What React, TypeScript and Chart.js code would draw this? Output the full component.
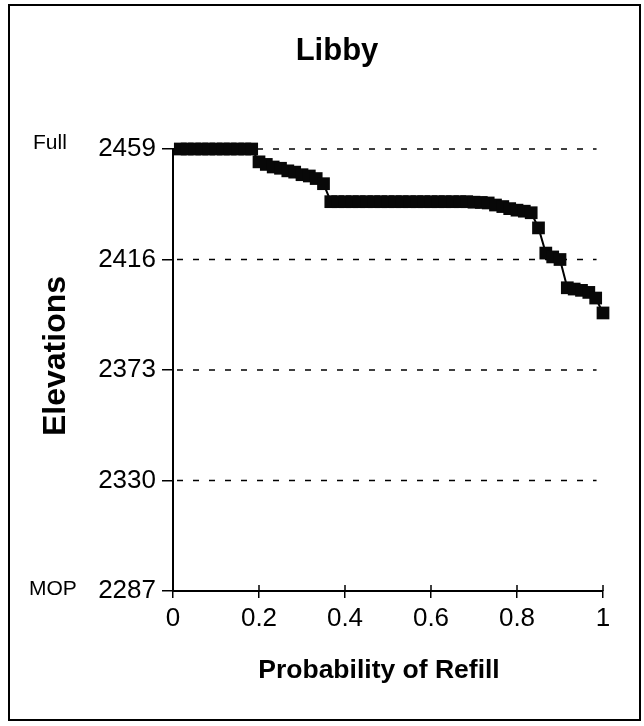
import React, { useEffect, useRef } from "react";
import { Chart, registerables } from "chart.js";

Chart.register(...registerables);

const FONT = "'Liberation Sans', Arial, Helvetica, sans-serif";

const probability = [
  0.017, 0.033, 0.05, 0.067, 0.083, 0.1, 0.117, 0.133, 0.15, 0.167,
  0.183, 0.2, 0.217, 0.233, 0.25, 0.267, 0.283, 0.3, 0.317, 0.333,
  0.35, 0.367, 0.383, 0.4, 0.417, 0.433, 0.45, 0.467, 0.483, 0.5,
  0.517, 0.533, 0.55, 0.567, 0.583, 0.6, 0.617, 0.633, 0.65, 0.667,
  0.683, 0.7, 0.717, 0.733, 0.75, 0.767, 0.783, 0.8, 0.817, 0.833,
  0.85, 0.867, 0.883, 0.9, 0.917, 0.933, 0.95, 0.967, 0.983, 1.0,
];

const elevations = [
  2459, 2459, 2459, 2459, 2459, 2459, 2459, 2459, 2459, 2459,
  2459, 2454, 2453, 2452, 2451.5, 2450.5, 2450, 2449, 2448.5, 2447.5,
  2445.5, 2438.5, 2438.5, 2438.5, 2438.5, 2438.5, 2438.5, 2438.5, 2438.5, 2438.5,
  2438.5, 2438.5, 2438.5, 2438.5, 2438.5, 2438.5, 2438.5, 2438.5, 2438.5, 2438.5,
  2438.5, 2438.3, 2438.2, 2438, 2437.2, 2436.6, 2435.8, 2435.2, 2434.8, 2434.2,
  2428.3, 2418.5, 2417, 2416, 2405, 2404.5, 2404, 2403.2, 2401, 2395.2,
];

const yTicks = [2287, 2330, 2373, 2416, 2459];
const xTicks = [0, 0.2, 0.4, 0.6, 0.8, 1];
const levelLabels = [
  { value: 2459, text: "Full" },
  { value: 2287, text: "MOP" },
];

const chartTitle = "Libby";
const xTitle = "Probability of Refill";
const yTitle = "Elevations";

const decorations = {
  id: "decorations",
  beforeDatasetsDraw(chart: any) {
    const { ctx, chartArea, scales } = chart;
    const xs = scales.x;
    const ys = scales.y;
    ctx.save();
    ctx.strokeStyle = "#000";
    ctx.lineWidth = 1.5;
    ctx.setLineDash([6, 10]);
    const xEnd = xs.getPixelForValue(0.985);
    for (const v of yTicks) {
      if (v === yTicks[0]) continue;
      const py = ys.getPixelForValue(v);
      ctx.beginPath();
      ctx.moveTo(chartArea.left + 4, py);
      ctx.lineTo(xEnd, py);
      ctx.stroke();
    }
    ctx.restore();
  },
  afterDraw(chart: any) {
    const { ctx, chartArea, scales } = chart;
    const xs = scales.x;
    const ys = scales.y;
    ctx.save();
    ctx.strokeStyle = "#000";
    ctx.lineWidth = 2;
    ctx.strokeRect(9, 5, 631, 715);
    ctx.lineWidth = 1.5;
    for (const v of xTicks) {
      const px = xs.getPixelForValue(v);
      ctx.beginPath();
      ctx.moveTo(px, chartArea.bottom);
      ctx.lineTo(px, chartArea.bottom - 6);
      ctx.stroke();
    }
    ctx.fillStyle = "#000";
    ctx.font = `21px ${FONT}`;
    ctx.textAlign = "left";
    ctx.textBaseline = "alphabetic";
    ctx.fillText(levelLabels[0].text, 33, ys.getPixelForValue(levelLabels[0].value) + 0);
    ctx.fillText(levelLabels[1].text, 29, ys.getPixelForValue(levelLabels[1].value) + 4);
    ctx.font = `bold 26.5px ${FONT}`;
    ctx.textAlign = "center";
    ctx.fillText(xTitle, 379, 678);
    ctx.translate(65, 356);
    ctx.rotate(-Math.PI / 2);
    ctx.font = `bold 32px ${FONT}`;
    ctx.textAlign = "center";
    ctx.fillText(yTitle, 0, 0);
    ctx.restore();
  },
};

export default function App() {
  const ref = useRef<HTMLCanvasElement | null>(null);

  useEffect(() => {
    if (!ref.current) return;
    const points = probability.map((p, i) => ({ x: p, y: elevations[i] }));
    const chart = new Chart(ref.current, {
      type: "scatter",
      data: {
        datasets: [
          {
            data: points,
            showLine: true,
            borderColor: "#000",
            borderWidth: 2,
            pointStyle: "rect",
            pointRadius: 9,
            pointBackgroundColor: "#080808",
            pointBorderColor: "#080808",
            pointBorderWidth: 0,
            clip: false as any,
          },
        ],
      },
      plugins: [decorations],
      options: {
        animation: false,
        responsive: false,
        maintainAspectRatio: false,
        layout: { padding: { left: 71, right: 41, top: 0, bottom: 0 } },
        plugins: {
          legend: { display: false },
          tooltip: { enabled: false },
          title: {
            display: true,
            text: chartTitle,
            color: "#000",
            font: { family: FONT, size: 31, weight: "bold" },
            padding: { top: 32.4, bottom: 79.4 },
          },
        },
        scales: {
          x: {
            type: "linear",
            min: 0,
            max: 1,
            afterFit: (s: any) => {
              s.height = 135;
            },
            afterBuildTicks: (s: any) => {
              s.ticks = xTicks.map((v) => ({ value: v }));
            },
            ticks: {
              color: "#000",
              font: { family: FONT, size: 26 },
              padding: 5.4,
              maxRotation: 0,
              autoSkip: false,
              callback: (v: any) => String(Math.round(Number(v) * 10) / 10),
            },
            grid: {
              display: true,
              drawOnChartArea: false,
              drawTicks: true,
              tickLength: 7,
              color: "#000",
              lineWidth: 1.5,
            },
            border: { display: true, color: "#000", width: 2 },
          },
          y: {
            type: "linear",
            min: 2287,
            max: 2459,
            afterFit: (s: any) => {
              s.width = 102;
            },
            afterBuildTicks: (s: any) => {
              s.ticks = yTicks.map((v) => ({ value: v }));
            },
            ticks: {
              color: "#000",
              font: { family: FONT, size: 26 },
              padding: 6,
              autoSkip: false,
              callback: (v: any) => String(v),
            },
            grid: {
              display: true,
              drawOnChartArea: false,
              drawTicks: true,
              tickLength: 11,
              color: "#000",
              lineWidth: 1.5,
            },
            border: { display: true, color: "#000", width: 2 },
          },
        },
      },
    } as any);
    return () => chart.destroy();
  }, []);

  return (
    <div style={{ position: "absolute", left: 0, top: 0, width: 644, height: 726, background: "#fff" }}>
      <canvas ref={ref} width={644} height={726} style={{ width: 644, height: 726, display: "block" }} />
    </div>
  );
}
